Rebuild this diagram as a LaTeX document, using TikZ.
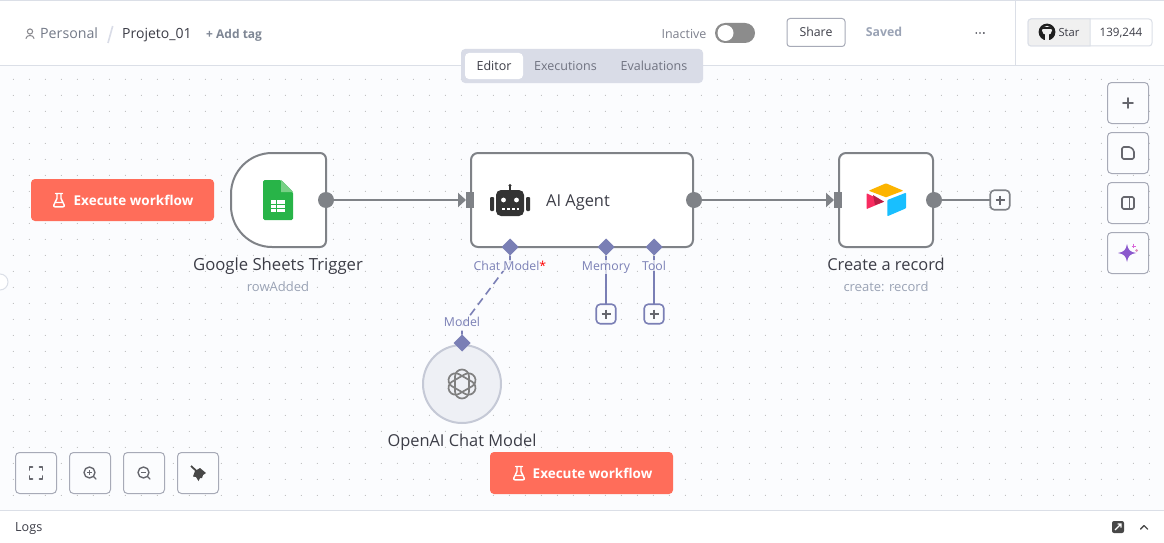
\documentclass[tikz,border=0pt]{standalone}
\usepackage{fontspec}
\setmainfont{Open Sans}
\usetikzlibrary{arrows.meta,shapes.geometric}
\definecolor{canvas}{HTML}{FBFCFE}
\definecolor{rulec}{HTML}{DBDFE7}
\definecolor{nodeg}{HTML}{7F8287}
\definecolor{conn}{HTML}{7A7FB5}
\definecolor{coral}{HTML}{FF6D5A}
\definecolor{ink}{HTML}{3C3D47}
\definecolor{sub}{HTML}{9AA3B5}
\definecolor{btn}{HTML}{A7AAB7}
\definecolor{icon}{HTML}{66676E}
\definecolor{tabbg}{HTML}{D9DCE7}
\definecolor{tabtx}{HTML}{6F7280}
\tikzset{
 box/.style={rectangle,inner sep=0pt,outer sep=0pt,rounded corners=#1},
 box/.default=5pt,
 cardn/.style={box=7pt,draw=nodeg,line width=2pt,fill=white},
 tool/.style={box=4pt,draw=btn,line width=1pt,fill=canvas,minimum width=41pt,minimum height=41pt},
 exec/.style={box=4pt,fill=coral,minimum width=183pt,minimum height=42pt},
 exect/.style={anchor=base,inner sep=0pt,text=white,font=\fontsize{13.5}{16}\selectfont\bfseries},
 outp/.style={circle,fill=nodeg,minimum size=16pt,inner sep=0pt,outer sep=0pt},
 inp/.style={rectangle,fill=nodeg,minimum width=8pt,minimum height=16pt,inner sep=0pt,outer sep=0pt},
 dia/.style={diamond,fill=conn,minimum size=17pt,inner sep=0pt,outer sep=0pt},
 plusb/.style={box=4pt,draw=#1,line width=1.6pt,fill=canvas,minimum size=19.5pt},
 plusm/.style={draw=icon,line width=1.2pt},
 wire/.style={draw=nodeg,line width=2pt},
 arrowed/.style={wire,-{Triangle[length=8pt,width=14pt,fill=nodeg]}},
 subwire/.style={draw=conn,line width=2pt},
 title/.style={anchor=base,text=ink,font=\fontsize{16.4}{18}\selectfont,inner sep=0pt},
 subt/.style={anchor=base,text=sub,font=\fontsize{13}{15}\selectfont,inner sep=0pt},
 portl/.style={anchor=base,text=conn,font=\fontsize{12.3}{14}\selectfont,inner sep=1pt,fill=canvas,fill opacity=.75,text opacity=1},
 head/.style={anchor=base,inner sep=0pt},
 iconl/.style={draw=icon,line width=1.6pt,line cap=round,line join=round},
 flask/.style={draw=white,line width=1.4pt,line join=round,line cap=round},
}
\begin{document}
\begin{tikzpicture}[x=1pt,y=-1pt]
\useasboundingbox (0,0) rectangle (1164,543);
\fill[white] (0,0) rectangle (1164,543);
\fill[canvas] (0,66) rectangle (1164,510);
% dot grid
\foreach \i in {0,...,72}{\foreach \j in {0,...,26}{
  \fill[black!36] ({13.3+16*\i},{79.3+16*\j}) circle (.5pt);}}
% header and footer rules
\fill[rulec] (0,0) rectangle (1164,1.4);
\fill[rulec] (0,65.2) rectangle (1164,66.4);
\fill[rulec] (1015,0) rectangle (1016,66);
\fill[rulec] (0,510) rectangle (1164,511);
% header left
\draw[draw=icon!80,line width=1pt] (30,31.5) circle (2.6pt);
\draw[draw=icon!80,line width=1pt,line cap=round] (26,38.5) .. controls (26,34.5) and (34,34.5) .. (34,38.5);
\node[head,anchor=base west,text=black!25!sub,font=\fontsize{14.2}{16}\selectfont] (personal) at (40,39) {Personal};
\draw[draw=tabbg,line width=1.6pt] (112.7,26) -- (108,43);
\node[head,anchor=base west,text=ink,font=\fontsize{14}{16}\selectfont] (proj) at (122,39) {Projeto\_01};
\node[head,anchor=base west,text=black!18!sub,font=\fontsize{12}{14}\selectfont\bfseries] (addtag) at (206,38) {+ Add tag};
% header right
\node[head,text=tabtx!90,font=\fontsize{12.5}{14}\selectfont] (inactive) at (684,38) {Inactive};
\node[box=10pt,fill=black!45,minimum width=40pt,minimum height=20pt] (toggle) at (735,33) {};
\fill[white] (725.5,33) circle (8pt);
\node[box=3pt,draw=btn,line width=1pt,fill=white,minimum width=58pt,minimum height=28pt] (share) at (816,32.5) {};
\node[head,text=ink,font=\fontsize{12.3}{14}\selectfont] (sharet) at (816,37) {Share};
\node[head,text=sub,font=\fontsize{12.3}{14}\selectfont\bfseries] (saved) at (884,37) {Saved};
\fill[ink] (976.2,33) circle (.95pt) (980,33) circle (.95pt) (983.8,33) circle (.95pt);
% GitHub star
\node[box=3pt,draw=rulec,line width=1pt,fill=white,minimum width=124pt,minimum height=27pt] (starbox) at (1090,32.5) {};
\path[fill=black!6,draw=rulec,line width=1pt] (1090,19) [rounded corners=3pt] -- (1028,19) -- (1028,46) [sharp corners] -- (1090,46) -- cycle;
\fill[black!88] (1047,32) circle (8.4pt);
\fill[black!6] (1047,30.5) ellipse (5pt and 4.6pt);
\fill[black!6] (1044.6,33) rectangle (1049.4,40.6);
\fill[black!88] (1041.8,25.8) -- (1044,27.6) -- (1050,27.6) -- (1052.2,25.8) -- (1052.6,29) -- (1041.4,29) -- cycle;
\fill[black!88] (1044,27.6) rectangle (1050,27);
\node[head,text=ink,font=\fontsize{11.2}{14}\selectfont] (star) at (1069,37) {Star};
\node[head,text=ink,font=\fontsize{11.6}{14}\selectfont] (count) at (1121,37) {139,244};
% tabs
\node[box=4pt,fill=tabbg,minimum width=242pt,minimum height=34pt] (tabs) at (582,66) {};
\node[box=4pt,fill=white,minimum width=58pt,minimum height=26pt] (editor) at (494,66) {};
\node[head,text=ink,font=\fontsize{12.5}{14}\selectfont] (editort) at (494,70.5) {Editor};
\node[head,text=tabtx,font=\fontsize{12.5}{14}\selectfont] (execs) at (565.5,70.5) {Executions};
\node[head,text=tabtx,font=\fontsize{12.5}{14}\selectfont] (evals) at (654,70.5) {Evaluations};
% left edge handle
\draw[draw=rulec,line width=1pt,fill=white] (0,282) circle (8pt);
% right tool column
\node[tool] (t1) at (1128,103) {};
\node[tool] (t2) at (1128,153) {};
\node[tool] (t3) at (1128,203) {};
\node[tool] (t4) at (1128,253) {};
\draw[iconl] (1123,103) -- (1133,103) (1128,98) -- (1128,108);
\draw[iconl,rounded corners=1.5pt] (1122,147) -- (1130.5,147) -- (1134,150.5) -- (1134,159) -- (1122,159) -- cycle;
\draw[iconl,rounded corners=1.5pt] (1122,197) rectangle (1134,209);
\draw[iconl] (1129.5,197) -- (1129.5,209);
\fill[violet!60!blue!65] (1127,244) .. controls (1128,250) and (1130,252) .. (1136,253) .. controls (1130,254) and (1128,256) .. (1127,262) .. controls (1126,256) and (1124,254) .. (1118,253) .. controls (1124,252) and (1126,250) .. (1127,244) -- cycle;
\draw[violet!50!magenta!60,line width=1pt] (1131.5,246) -- (1136,246) (1133.8,243.7) -- (1133.8,248.3);
\fill[magenta!50!violet!50] (1135,250.5) -- (1136.5,249) -- (1138,250.5) -- (1136.5,252) -- cycle;
% bottom tool row
\node[tool] (b1) at (36,473) {};
\node[tool] (b2) at (90,473) {};
\node[tool] (b3) at (144,473) {};
\node[tool] (b4) at (198,473) {};
\draw[iconl] (29.5,470) -- (29.5,467) -- (32.5,467) (39.5,467) -- (42.5,467) -- (42.5,470) (42.5,476) -- (42.5,479) -- (39.5,479) (32.5,479) -- (29.5,479) -- (29.5,476);
\draw[iconl,line width=1.4pt] (89.5,472.5) circle (5.5pt) (93.8,476.8) -- (96,479);
\draw[icon,line width=1.1pt] (87,472.5) -- (92,472.5) (89.5,470) -- (89.5,475);
\draw[iconl,line width=1.4pt] (143.5,472.5) circle (5.5pt) (147.8,476.8) -- (150,479);
\draw[icon,line width=1.1pt] (141,472.5) -- (146,472.5);
\draw[line width=1.8pt,draw=black!72] (191,466) -- (197,471.5);
\fill[black!72] (195,471) -- (200,468) -- (206,473) -- (203,475) -- (202,478) -- (200,478) -- (198.5,481) -- (196,477) -- (193,476.5) -- cycle;
% execute buttons
\node[exec] (run1) at (122.5,200) {};
\node[exect] (run1t) at (133.5,205) {Execute workflow};
\node[exec] (run2) at (581.5,473) {};
\node[exect] (run2t) at (592.5,478) {Execute workflow};
\draw[flask] (57,193.5) -- (57,198.5) -- (53.8,205) .. controls (53.4,206.2) and (54,206.8) .. (55,206.8) -- (63,206.8) .. controls (64,206.8) and (64.6,206.2) .. (64.2,205) -- (61,198.5) -- (61,193.5) (55.5,193.5) -- (62.5,193.5) (55.7,202.5) -- (62.3,202.5);
\draw[flask] (517,466.5) -- (517,471.5) -- (513.8,478) .. controls (513.4,479.2) and (514,479.8) .. (515,479.8) -- (523,479.8) .. controls (524,479.8) and (524.6,479.2) .. (524.2,478) -- (521,471.5) -- (521,466.5) (515.5,466.5) -- (522.5,466.5) (515.7,475.5) -- (522.3,475.5);
% Google Sheets card
\draw[draw=nodeg,line width=2pt,fill=white] (326,159) -- (326,241) .. controls (326,244.3) and (323.3,247) .. (320,247) -- (272,247) .. controls (249.4,247) and (231,228.6) .. (231,206) -- (231,194) .. controls (231,171.4) and (249.4,153) .. (272,153) -- (320,153) .. controls (323.3,153) and (326,155.7) .. (326,159) -- cycle;
\node[inner sep=0pt,minimum width=95pt,minimum height=94pt] (gs) at (278.5,200) {};
\fill[rounded corners=1.5pt,fill={rgb,255:red,40;green,180;blue,72}] (263,180) -- (281,180) -- (293,192) -- (293,220) -- (263,220) -- cycle;
\fill[fill={rgb,255:red,120;green,208;blue,134}] (281,180) -- (293,192) -- (281,192) -- cycle;
\fill[white] (271,200) rectangle (285,212);
\draw[draw={rgb,255:red,40;green,180;blue,72},line width=.9pt] (271,204) -- (285,204) (271,208) -- (285,208) (276,200) -- (276,212);
\node[outp] (gsout) at (326,200) {};
\node[title,font=\fontsize{16.7}{18}\selectfont] (gst) at (278,270) {Google Sheets Trigger};
\node[subt] (gss) at (278,291) {rowAdded};
% AI Agent card
\node[cardn,minimum width=222pt,minimum height=94pt] (agent) at (582,200) {};
\node[inp] (agin) at (470,200) {};
\node[outp] (agout) at (694,200) {};
\fill[black!80,rounded corners=5pt] (496,190) rectangle (524,216);
\fill[black!80] (509,185) rectangle (511,191);
\fill[black!80] (510,185.5) circle (1.6pt);
\fill[black!80,rounded corners=1pt] (490,197) rectangle (494,211) (526,197) rectangle (530,211);
\fill[white] (503.5,200) circle (2.4pt) (516.5,200) circle (2.4pt);
\draw[white,line width=1.5pt,dash pattern=on 3.3pt off 1.6pt] (502,209) -- (519,209);
\node[title,anchor=base west] (agt) at (546,206) {AI Agent};
% Airtable card
\node[cardn,minimum width=94pt,minimum height=94pt] (air) at (886,200) {};
\node[inp] (airin) at (838,200) {};
\node[outp] (airout) at (934,200) {};
\fill[fill={rgb,255:red,252;green,180;blue,0},rounded corners=.8pt] (868.7,190.7) -- (886,183.3) -- (903.3,190.7) -- (886,197.3) -- cycle;
\fill[fill={rgb,255:red,24;green,191;blue,255},rounded corners=.8pt] (887.3,200) -- (906,192.7) -- (906,208.3) -- (887.3,216.3) -- cycle;
\fill[fill={rgb,255:red,248;green,43;blue,96},rounded corners=.5pt] (866.7,193.3) -- (884,201.7) -- (866.7,209) -- cycle;
\fill[fill={rgb,255:red,186;green,30;blue,69}] (873,195) -- (884,201.7) -- (875,205) -- cycle;
\node[title] (airt) at (886,270) {Create a record};
\node[subt] (airs) at (886,291) {create: record};
% main connectors
\draw[arrowed] (gsout) -- (agin.west);
\draw[arrowed] (agout) -- (airin.west);
\node[plusb=nodeg] (pend) at (1000,200) {};
\draw[plusm] (995.5,200) -- (1004.5,200) (1000,195.5) -- (1000,204.5);
\draw[wire] (airout) -- (pend);
% sub-node ports
\node[dia] (pchat) at (510,247) {};
\node[dia] (pmem) at (606,247) {};
\node[dia] (ptool) at (654,247) {};
\node[plusb=conn] (pm) at (606,314) {};
\node[plusb=conn] (pt) at (654,314) {};
\draw[plusm] (601.5,314) -- (610.5,314) (606,309.5) -- (606,318.5) (649.5,314) -- (658.5,314) (654,309.5) -- (654,318.5);
\draw[subwire] (pmem) -- (pm);
\draw[subwire] (ptool) -- (pt);
% OpenAI node
\node[circle,draw={rgb,255:red,197;green,201;blue,214},line width=2pt,fill={rgb,255:red,238;green,240;blue,245},minimum size=78pt,inner sep=0pt] (oai) at (462,384) {};
\foreach \a in {30,90,150}{
  \draw[draw=black!50,line width=1.7pt,rounded corners=7pt,rotate around={\a:(462,384)}] (447.5,377) rectangle (476.5,391);}
\node[dia] (pmod) at (462,343) {};
\draw[draw=conn,line width=1.6pt,dash pattern=on 8pt off 5pt] (pchat) -- (510,262) -- (462,326) -- (pmod);
\node[portl] (lchat) at (510,270) {Chat Model\textcolor{red}{*}};
\node[portl] (lmem) at (606,270) {Memory};
\node[portl] (ltool) at (654,270) {Tool};
\node[portl] (lmod) at (462,326) {Model};
\node[title] (oait) at (462,446) {OpenAI Chat Model};
% footer
\node[head,anchor=base west,text=ink,font=\fontsize{12.6}{14}\selectfont] (logs) at (15,531) {Logs};
\fill[black!72,rounded corners=2pt] (1112,521) rectangle (1124,533);
\draw[white,line width=1.1pt] (1115,530) -- (1121,524) (1117.5,524) -- (1121,524) -- (1121,527.5);
\draw[draw=black!70,line width=1.4pt,line cap=round,line join=round] (1140.5,529) -- (1144,525.5) -- (1147.5,529);
\end{tikzpicture}
\end{document}
